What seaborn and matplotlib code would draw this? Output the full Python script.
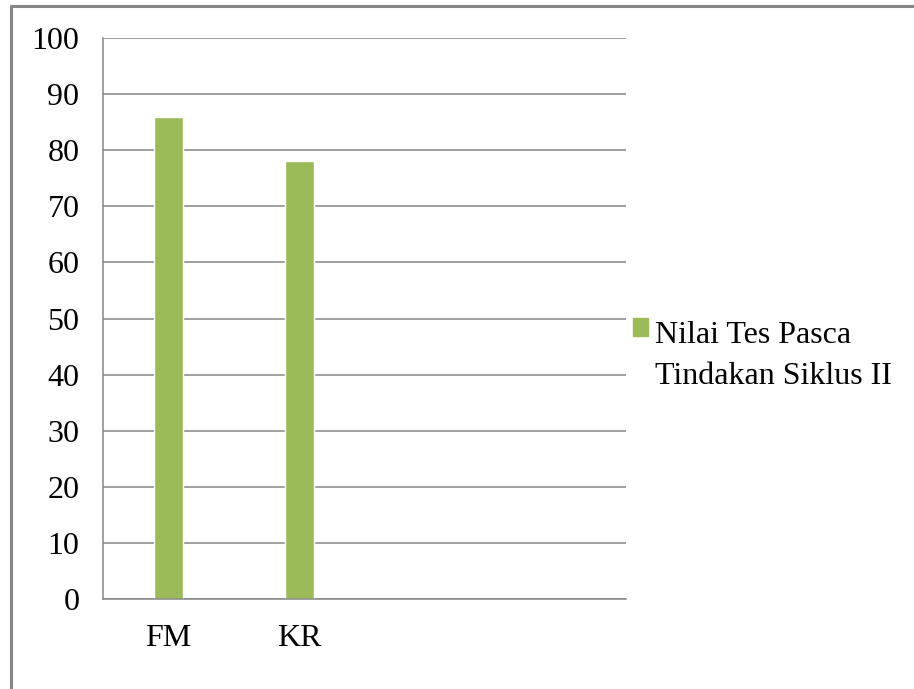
import numpy as np
import pandas as pd
import matplotlib
matplotlib.use("Agg")
import matplotlib.pyplot as plt
import matplotlib.patches as mpatches
from matplotlib.legend_handler import HandlerPatch
from matplotlib.lines import Line2D
import seaborn as sns

# data
categories = ["FM", "KR", "", ""]
series_label = "Nilai Tes Pasca\nTindakan Siklus II"
values = [86, 78, np.nan, np.nan]
y_ticks = list(range(0, 101, 10))

BAR_COLOR = "#9BBB59"
GRID_COLOR = "#868686"

sns.set_style("white")
plt.rcParams["font.family"] = ["Liberation Serif", "DejaVu Serif"]
plt.rcParams["font.size"] = 23
plt.rcParams["text.color"] = "black"
plt.rcParams["xtick.labelcolor"] = "black"
plt.rcParams["ytick.labelcolor"] = "black"

df = pd.DataFrame({"pos": [0, 1, 2, 3], "nilai": values})

fig = plt.figure(figsize=(9.14, 6.89), dpi=100)
ax = fig.add_axes([0.1127, 0.1306, 0.5722, 0.8142])

sns.barplot(data=df, x="pos", y="nilai", color=BAR_COLOR, width=0.22,
            saturation=1, ax=ax, legend=False)

ax.set_xlim(-0.5, 3.5)
ax.set_ylim(0, 100)
ax.set_yticks(y_ticks)
ax.set_xlabel("")
ax.set_ylabel("")

# category boundaries as major ticks, labels on minor ticks
ax.set_xticks(np.arange(-0.5, 4, 1))
ax.set_xticklabels([])
ax.set_xticks(range(len(categories)), minor=True)
ax.set_xticklabels(categories, minor=True)
ax.tick_params(axis="x", which="major", length=7, width=1.1, color=GRID_COLOR, direction="out")
ax.tick_params(axis="x", which="minor", length=0, pad=18)
ax.tick_params(axis="y", length=5, width=1.1, color=GRID_COLOR, direction="out", pad=12)

ax.grid(axis="y", color=GRID_COLOR, linewidth=1.1)
ax.set_axisbelow(True)
for s in ["top", "right"]:
    ax.spines[s].set_visible(False)
for s in ["left", "bottom"]:
    ax.spines[s].set_color(GRID_COLOR)
    ax.spines[s].set_linewidth(1.1)
ax.spines["bottom"].set_zorder(3)


# legend square sits next to the first text line
def top_square(legend, orig_handle, xdescent, ydescent, width, height, fontsize):
    return mpatches.Rectangle((-xdescent, -ydescent + 20.5), width, height)


handle = mpatches.Patch(color=BAR_COLOR, label=series_label)
leg = fig.legend(handles=[handle], loc="center left", bbox_to_anchor=(0.6926, 0.483),
                 frameon=False, handlelength=0.48, handleheight=0.48,
                 handletextpad=0.2, borderpad=0, borderaxespad=0,
                 handler_map={mpatches.Patch: HandlerPatch(patch_func=top_square)})
for t in leg.get_texts():
    t.set_linespacing(1.57)

# outer chart border (left and top only visible)
fig.add_artist(Line2D([0.0125, 0.0125], [0, 0.992], color=GRID_COLOR, linewidth=2.2,
                      transform=fig.transFigure))
fig.add_artist(Line2D([0.0125, 1.0], [0.992, 0.992], color=GRID_COLOR, linewidth=2.2,
                      transform=fig.transFigure))

fig.savefig("out.png", dpi=100)
